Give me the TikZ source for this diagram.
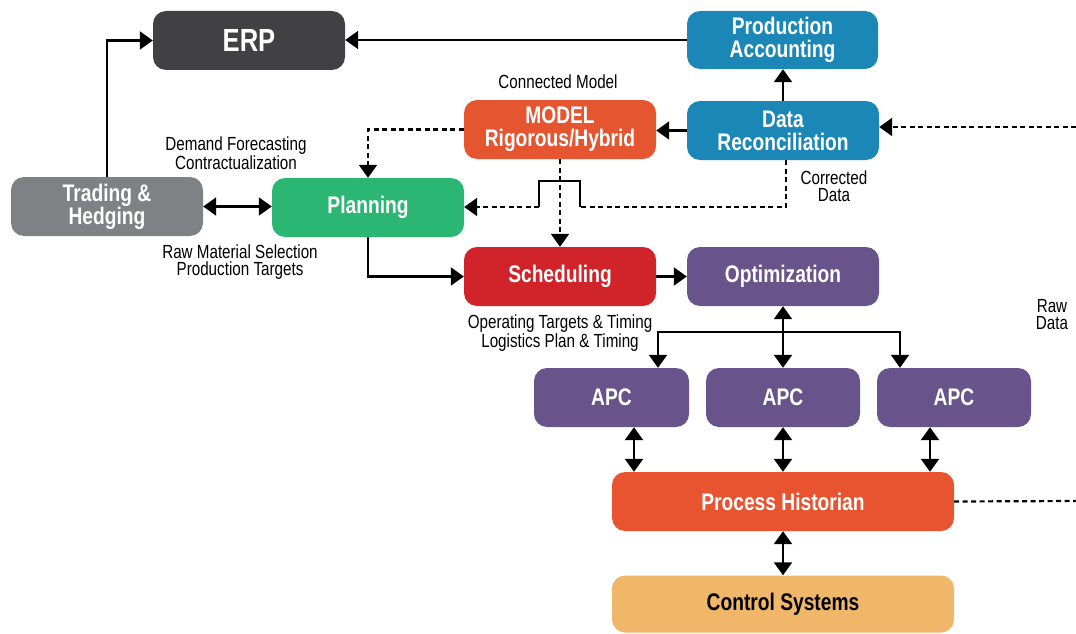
\documentclass[tikz,border=0pt]{standalone}
\usepackage{fontspec}
\setmainfont[FakeStretch=0.8]{Liberation Sans}
\usetikzlibrary{arrows.meta}
\definecolor{erpgray}{HTML}{414042}
\definecolor{tradegray}{HTML}{808184}
\definecolor{acctblue}{HTML}{1B87B6}
\definecolor{modelorange}{HTML}{E55530}
\definecolor{plangreen}{HTML}{2BB673}
\definecolor{schedred}{HTML}{D1232A}
\definecolor{optpurple}{HTML}{68538B}
\definecolor{historange}{HTML}{E8542F}
\definecolor{ctrlyellow}{HTML}{F0B66A}
\begin{document}
\begin{tikzpicture}[x=1pt,y=-1pt,
  box/.style={rectangle, rounded corners=13pt, minimum height=59pt, inner sep=0pt,
    align=center, text=white, font=\fontsize{24}{23}\selectfont\bfseries},
  lbl/.style={align=center, inner sep=0pt, font=\fontsize{19}{17}\selectfont},
  wire/.style={line width=2.2pt},
  conn/.style={wire, -{Triangle[length=13pt,width=18pt]}},
  both/.style={wire, {Triangle[length=13pt,width=18pt]}-{Triangle[length=13pt,width=18pt]}},
  dashline/.style={wire, dash pattern=on 5pt off 3.5pt},
  dconn/.style={conn, dash pattern=on 5pt off 3.5pt},
]
\useasboundingbox (0,0) rectangle (1076,634);

% boxes
\node[box, fill=erpgray, minimum width=192pt, font=\fontsize{32}{32}\selectfont\bfseries] (erp) at (249,40.5) {ERP};
\node[box, fill=acctblue, minimum width=191pt, minimum height=58pt] (pacc) at (782.5,40) {Production\\Accounting};
\node[box, fill=modelorange, minimum width=192pt] (model) at (560,129.5) {MODEL\\Rigorous/Hybrid};
\node[box, fill=acctblue, minimum width=192pt] (drec) at (783,130.5) {Data\\Reconciliation};
\node[box, fill=tradegray, minimum width=192pt] (trade) at (107,206.5) {Trading \&\\Hedging};
\node[box, fill=plangreen, minimum width=192pt] (plan) at (368,207.5) {Planning};
\node[box, fill=schedred, minimum width=192pt] (sched) at (560,276.5) {Scheduling};
\node[box, fill=optpurple, minimum width=192pt] (opt) at (783,276.5) {Optimization};
\node[box, fill=optpurple, minimum width=155pt] (apc1) at (611.5,397.5) {APC};
\node[box, fill=optpurple, minimum width=154pt] (apc2) at (783,397.5) {APC};
\node[box, fill=optpurple, minimum width=154pt] (apc3) at (954,397.5) {APC};
\node[box, fill=historange, minimum width=342pt] (hist) at (783,501.5) {Process Historian};
\node[box, fill=ctrlyellow, minimum width=342pt, minimum height=57pt, text=black] (ctrl) at (783,604) {Control Systems};

% labels
\node[lbl] (lconn) at (558,82) {Connected Model};
\node[lbl] (ldemand) at (236,153) {Demand Forecasting\\Contractualization};
\node[lbl] (lrawmat) at (240,262) {Raw Material Selection\\Production Targets};
\node[lbl] (lcorr) at (834,186) {Corrected\\Data};
\node[lbl] (lops) at (560,333) {Operating Targets \& Timing\\Logistics Plan \& Timing};
\node[lbl] (lrawd) at (1052,315) {Raw\\Data};

% solid connectors
\draw[conn] (trade.north) |- (erp.west);
\draw[conn] (pacc.west) -- (pacc.west -| erp.east);
\draw[conn] (drec.north) -- (drec.north |- pacc.south);
\draw[conn] (drec.west) -- (drec.west -| model.east);
\draw[both] (trade.east) -- (trade.east -| plan.west);
\draw[conn] (plan.south) |- (sched.west);
\draw[conn] (sched.east) -- (opt.west);

% optimization to the APC layer
\coordinate (bus) at (783,332);
\draw[both] (opt.south) -- (apc2.north);
\draw[conn] (bus) -| ([xshift=46.5pt]apc1.north);
\draw[conn] (bus) -| ([xshift=-54pt]apc3.north);

% APC layer to historian and control systems
\draw[both] ([xshift=22.5pt]apc1.south) -- ([xshift=22.5pt]apc1.south |- hist.north);
\draw[both] (apc2.south) -- (apc2.south |- hist.north);
\draw[both] ([xshift=-24pt]apc3.south) -- ([xshift=-24pt]apc3.south |- hist.north);
\draw[both] (hist.south) -- (ctrl.north);

% dashed data flows
\coordinate (rawin) at (1076,127);
\coordinate (rawout) at (1076,501);
\draw[dconn] (rawin) -- (rawin -| drec.east);
\draw[dashline] (hist.east) -- (rawout);
\draw[dconn] (model.west) -| (plan.north);
\draw[dconn] (model.south) -- (sched.north);

% corrected data, hopping over the model line
\coordinate (hopR) at (580,207);
\coordinate (hopL) at (539,207);
\draw[dashline] ([xshift=3pt]drec.south) |- (hopR);
\draw[wire] (hopR) -- (580,181) -- (539,181) -- (hopL);
\draw[dconn] (hopL) -- (hopL -| plan.east);
\end{tikzpicture}
\end{document}
